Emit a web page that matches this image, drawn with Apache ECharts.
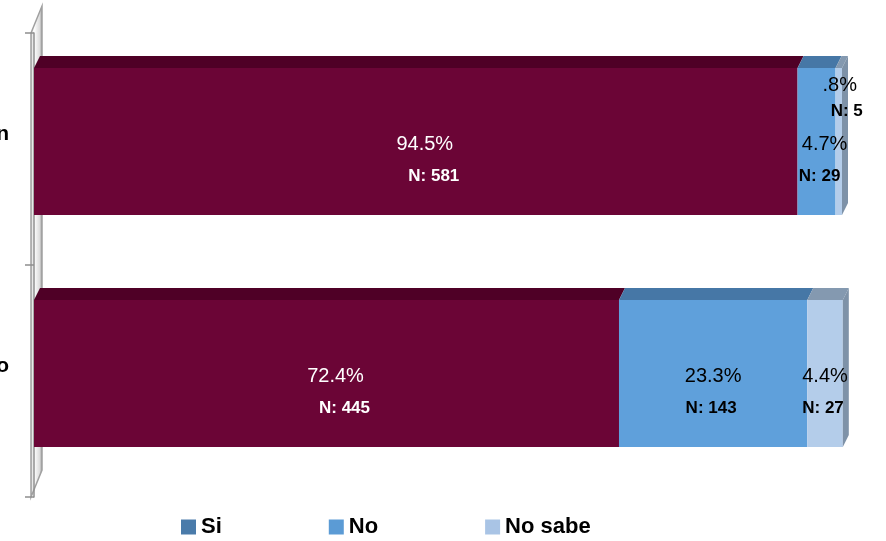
<!DOCTYPE html>
<html>
<head>
<meta charset="utf-8">
<script src="https://cdn.jsdelivr.net/npm/echarts@6/dist/echarts.min.js"></script>
<style>
html,body{margin:0;padding:0;background:#fff;}
#c{width:886px;height:541px;}
</style>
</head>
<body>
<div id="c"></div>
<script>
// ---- data ----
const categories = ['n', 'o'];
const seriesNames = ['Si', 'No', 'No sabe'];
const siPct = [94.5, 72.4];
const noPct = [4.7, 23.3];
const noSabePct = [0.8, 4.4];
const siN = [581, 445];
const noN = [29, 143];
const noSabeN = [5, 27];

// ---- styles ----
const FONT = '"Liberation Sans", Arial, sans-serif';
const frontColors = ['#6B0536', '#5FA0DB', '#B4CDEA'];
const topColors = ['#4F0026', '#4677A6', '#8499B0'];
const sideColor = '#7E92A8';
const legendColors = ['#4A7BAA', '#5B9BD5', '#A9C4E5'];
const labelColors = ['#ffffff', '#000000', '#000000'];
const DX = 6, DY = -12;
const GRID = {left: 34, right: 44, top: 33, bottom: 44, outerBoundsMode: 'none', containLabel: false};

const pctArrays = [siPct, noPct, noSabePct];
const nArrays = [siN, noN, noSabeN];

function buildData(si) {
  return categories.map((c, ci) => {
    let start = 0;
    for (let k = 0; k < si; k++) start += pctArrays[k][ci];
    return [pctArrays[si][ci], ci, start, nArrays[si][ci]];
  });
}

function fmtPct(v) {
  let s = v.toFixed(1) + '%';
  if (s.startsWith('0.')) s = s.slice(1);
  return s;
}

function makeRender(si) {
  const isLast = si === seriesNames.length - 1;
  return function (params, api) {
    const v = api.value(0), cat = api.value(1), start = api.value(2), n = api.value(3);
    const p0 = api.coord([start, cat]);
    const p1 = api.coord([start + v, cat]);
    const band = api.size([0, 1])[1];
    const h = band * 0.634;
    const yc = p0[1] - 7.5;
    const y0 = yc - h / 2;
    const x0 = p0[0], x1 = p1[0];
    const cx = (x0 + x1) / 2;
    const children = [
      {type: 'rect', shape: {x: x0, y: y0, width: x1 - x0, height: h}, style: {fill: frontColors[si]}},
      {type: 'polygon', shape: {points: [[x0, y0], [x1, y0], [x1 + DX, y0 + DY], [x0 + DX, y0 + DY]]}, style: {fill: topColors[si]}}
    ];
    if (isLast) {
      children.push({type: 'polygon', shape: {points: [[x1, y0], [x1 + DX, y0 + DY], [x1 + DX, y0 + h + DY], [x1, y0 + h]]}, style: {fill: sideColor}});
    }
    let px, py, nx, ny;
    if (v < 2) {
      px = cx + 1; py = y0 + 17.5; nx = cx + 8; ny = y0 + 43.5;
    } else {
      const extra = si === 0 ? 9 : (cx > 790 && v < 10 && cat === 0 ? 8 : 0);
      px = cx + extra; py = yc + 3;
      nx = cx + (si === 0 ? 18 : (extra ? 3 : -2)); ny = yc + 35;
    }
    children.push({type: 'text', z2: 100, style: {x: px, y: py, text: fmtPct(v), fill: labelColors[si], font: '20px ' + FONT, align: 'center', verticalAlign: 'middle'}});
    children.push({type: 'text', z2: 100, style: {x: nx, y: ny, text: 'N: ' + n, fill: labelColors[si], font: 'bold 17px ' + FONT, align: 'center', verticalAlign: 'middle'}});
    return {type: 'group', children: children};
  };
}

const chart = echarts.init(document.getElementById('c'), null, {renderer: 'canvas'});

// 3D wall behind the category axis
const wallX = GRID.left - 3, wallTop = GRID.top, wallBot = 541 - GRID.bottom;
const WDX = 11, WDY = -27;

const option = {
  animation: false,
  backgroundColor: '#ffffff',
  grid: GRID,
  xAxis: {type: 'value', min: 0, max: 100, show: false},
  yAxis: {
    type: 'category', data: categories, inverse: true, offset: 3,
    axisLine: {show: true, lineStyle: {color: '#8f8f8f', width: 1.5}},
    axisTick: {show: true, length: 9, lineStyle: {color: '#8f8f8f', width: 1.5}},
    axisLabel: {margin: 22, color: '#000', fontFamily: FONT, fontWeight: 'bold', fontSize: 21, verticalAlign: 'bottom', lineHeight: 30},
    splitLine: {show: false}
  },
  legend: {
    left: 176, top: 511, itemWidth: 15, itemHeight: 15, itemGap: 107, icon: 'rect',
    textStyle: {fontFamily: FONT, fontWeight: 'bold', fontSize: 22, color: '#000'},
    data: seriesNames.map((s, i) => ({name: s, itemStyle: {color: legendColors[i]}}))
  },
  graphic: [
    {type: 'polygon', z: -1, silent: true,
     shape: {points: [[wallX, wallTop], [wallX + WDX, wallTop + WDY], [wallX + WDX, wallBot + WDY], [wallX, wallBot]]},
     style: {fill: {type: 'linear', x: 0, y: 0, x2: 1, y2: 0, colorStops: [{offset: 0, color: '#c8c8c8'}, {offset: 0.3, color: '#ffffff'}, {offset: 0.75, color: '#dcdcdc'}, {offset: 1, color: '#8a8a8a'}]},
            stroke: '#a0a0a0', lineWidth: 1.5}}
  ],
  series: seriesNames.map((name, si) => ({
    name: name,
    type: 'custom',
    coordinateSystem: 'cartesian2d',
    itemStyle: {color: legendColors[si]},
    encode: {x: [0, 2], y: 1},
    renderItem: makeRender(si),
    data: buildData(si)
  }))
};
chart.setOption(option);
</script>
</body>
</html>
